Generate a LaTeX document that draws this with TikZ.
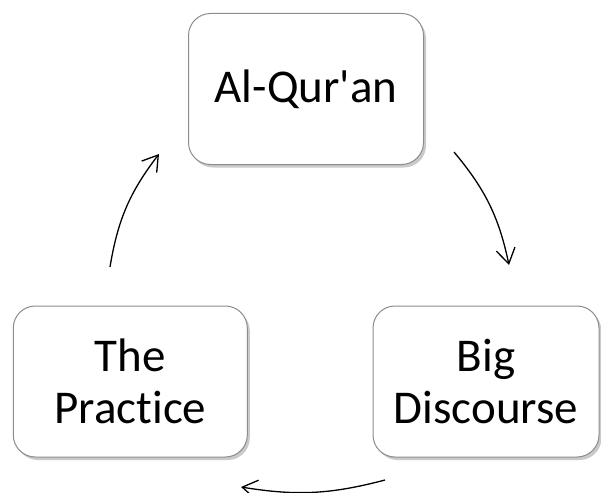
\documentclass[tikz,border=0pt]{standalone}
\usepackage{fontspec}
\setmainfont{Carlito}[Ligatures={NoCommon}]
\usetikzlibrary{positioning, arrows.meta, shadows}
\tikzset{dbox/.style={draw=black!45, line width=1pt, rounded corners=22pt, fill=white, align=center, inner sep=0pt, minimum height=151pt, font=\fontsize{47}{52.5}\selectfont, drop shadow={shadow xshift=2.5pt, shadow yshift=-3pt, fill=black!35, opacity=0.6}}}
\tikzset{carr/.style={draw, line width=1.3pt, -{Straight Barb[length=15pt, width=19pt, line width=1.3pt]}}}

\begin{document}
\begin{tikzpicture}[x=1pt, y=-1pt]
	\useasboundingbox (0,0) rectangle (601,492);
	\node[dbox, minimum width=235pt] (Q) at (306,89) {Al-Qur\textquotesingle an};
	\node[dbox, minimum width=226pt] (B) at (486,381.5) {Big\\Discourse};
	\node[dbox, minimum width=234pt] (P) at (130.3,381.5) {The\\Practice};
	% free ends of the arrows
	\coordinate (qb0) at (454,152);
	\coordinate (qb1) at (509,265);
	\coordinate (bp0) at (385,480);
	\coordinate (bp1) at (241,487);
	\coordinate (pq0) at (110,267);
	\coordinate (pq1) at (159,154);
	\draw[carr] (qb0) to[bend left=14] (qb1);
	\draw[carr] (bp0) to[bend left=12] (bp1);
	\draw[carr] (pq0) to[bend left=14] (pq1);
\end{tikzpicture}
\end{document}
